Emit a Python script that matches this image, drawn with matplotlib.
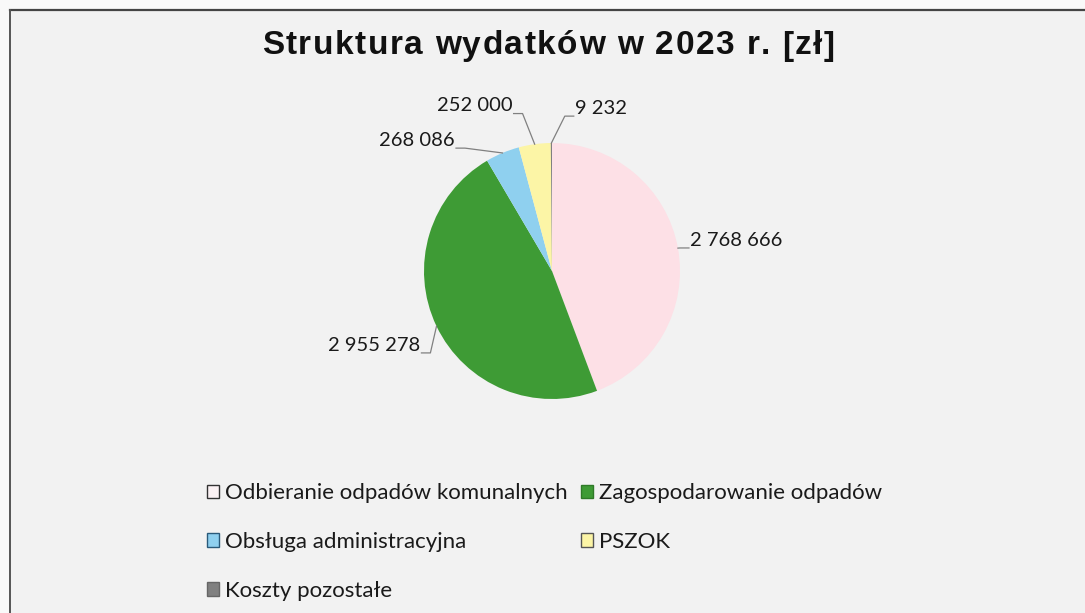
import matplotlib
matplotlib.use("Agg")
import matplotlib.pyplot as plt
import numpy as np
from matplotlib.patches import Patch, Rectangle
from matplotlib.lines import Line2D

# ---- data ----
categories = ["Odbieranie odpadów komunalnych", "Zagospodarowanie odpadów",
              "Obsługa administracyjna", "PSZOK", "Koszty pozostałe"]
values = [2768666, 2955278, 268086, 252000, 9232]
value_labels = ["2 768 666", "2 955 278", "268 086", "252 000", "9 232"]
title = "Struktura wydatków w 2023 r. [zł]"

colors = ["#fde0e6", "#3e9b35", "#8fd0ef", "#fcf5a6", "#808080"]
legend_face = ["#fbf2f4", "#3e9b35", "#8fd0ef", "#fcf5a6", "#808080"]
legend_edge = ["#333333", "#2f7a28", "#2a5a7a", "#555555", "#666666"]

W, H = 1085, 613
fig = plt.figure(figsize=(W / 100, H / 100), dpi=100)
fig.patch.set_facecolor("#f9f9f9")

# background panel with frame lines (top and left)
bg = fig.add_axes([0, 0, 1, 1])
bg.set_xlim(0, W)
bg.set_ylim(H, 0)
bg.axis("off")
bg.add_patch(Rectangle((10, 10), W, H, facecolor="#f2f2f2", edgecolor="none"))
bg.plot([10, W], [10, 10], color="#444444", lw=1.6)
bg.plot([10, 10], [10, H], color="#555555", lw=1.4)

# title with letter spacing, drawn char by char
renderer = fig.canvas.get_renderer()
tprops = dict(fontsize=24, fontweight="bold", family="Liberation Sans", color="#111111")
target_left, target_right, ty = 262, 835, 46
widths = []
for ch in title:
    if ch == " ":
        t = bg.text(0, 0, "a a", **tprops)
        w_full = t.get_window_extent(renderer).width
        t.set_text("aa")
        w = w_full - t.get_window_extent(renderer).width
    else:
        t = bg.text(0, 0, ch, **tprops)
        w = t.get_window_extent(renderer).width
    t.remove()
    widths.append(w)
extra = ((target_right - target_left) - sum(widths)) / (len(title) - 1)
x = target_left
for ch, w in zip(title, widths):
    if ch != " ":
        bg.text(x, ty, ch, ha="left", va="center", **tprops)
    x += w + extra

# pie axes: center (552,271), radius 128
cx, cy, R = 552, 271, 128
ax = fig.add_axes([(cx - R) / W, 1 - (cy + R) / H, 2 * R / W, 2 * R / H])
wedges, _ = ax.pie(values, colors=colors, startangle=90, counterclock=False,
                   radius=1.0, wedgeprops=dict(linewidth=0))
ax.set_xlim(-1, 1)
ax.set_ylim(-1, 1)
ax.set_aspect("equal")
ax.axis("off")

# label positions (radius units) and text alignment
label_pos = [(1.08, 0.24), (-1.03, -0.58), (-0.76, 1.02), (-0.31, 1.29), (0.18, 1.27)]
label_ha = ["left", "right", "right", "right", "left"]
font_lbl = "Lato"
for w, txt, (tx, ty), ha in zip(wedges, value_labels, label_pos, label_ha):
    mid = np.deg2rad((w.theta1 + w.theta2) / 2)
    ex, ey = np.cos(mid), np.sin(mid)
    ax.text(tx, ty, txt, ha=ha, va="center", fontsize=14.5, family=font_lbl,
            color="#1a1a1a", clip_on=False)
    # leader line: short underscore next to text then to wedge edge
    sx = tx + (0.01 if ha == "right" else -0.01)
    sy = ty - 0.06
    hx = sx + (0.07 if ha == "right" else -0.07)
    ax.add_line(Line2D([sx, hx, ex], [sy, sy, ey], color="#808080",
                       lw=0.9, clip_on=False))

# legend (row-wise order as in Excel -> column-major handles)
order = [0, 2, 4, 1, 3]
handles = [Patch(facecolor=legend_face[i], edgecolor=legend_edge[i], linewidth=1.0) for i in order]
labels = [categories[i] for i in order]
leg = fig.legend(handles, labels, ncol=2, loc="upper left",
                 bbox_to_anchor=(196 / W, 1 - 472 / H), frameon=False,
                 prop=dict(family=font_lbl, size=16), handlelength=0.55,
                 handleheight=0.55, handletextpad=0.25, labelspacing=1.3,
                 columnspacing=0.6, borderpad=0)
for t in leg.get_texts():
    t.set_color("#1a1a1a")

fig.savefig("out.png", dpi=100, facecolor=fig.get_facecolor())
